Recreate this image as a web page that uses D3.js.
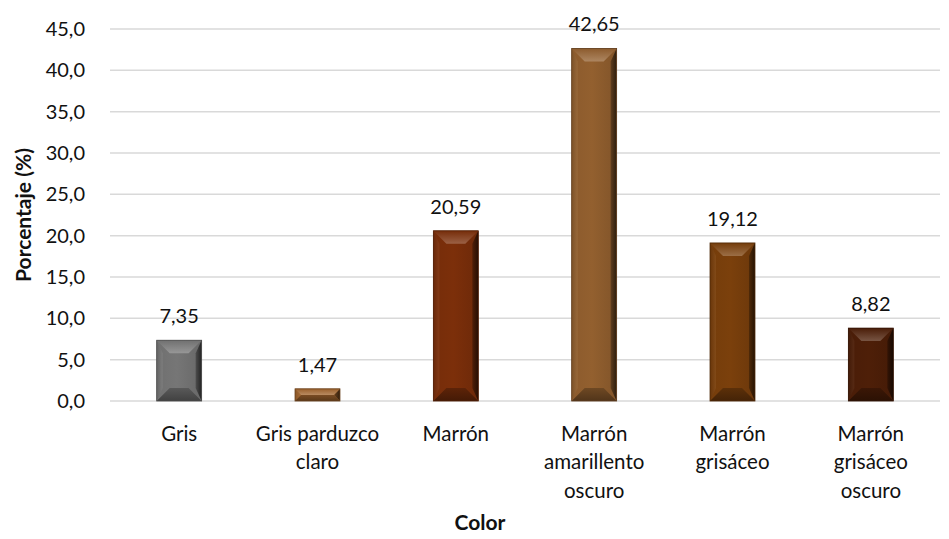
<!DOCTYPE html>
<html>
<head>
<meta charset="utf-8">
<script src="https://cdn.jsdelivr.net/npm/d3@7"></script>
<style>
  html, body { margin: 0; padding: 0; background: #fff; }
  svg { display: block; font-family: Lato, "Open Sans", sans-serif; }
</style>
</head>
<body>
<svg id="chart" width="949" height="539"></svg>
<script>
// Colour categories and their share (%)
const categories = ["Gris", "Gris parduzco claro", "Marrón", "Marrón amarillento oscuro", "Marrón grisáceo", "Marrón grisáceo oscuro"];
const categoryLines = [["Gris"], ["Gris parduzco", "claro"], ["Marrón"], ["Marrón", "amarillento", "oscuro"], ["Marrón", "grisáceo"], ["Marrón", "grisáceo", "oscuro"]];
const values = [7.35, 1.47, 20.59, 42.65, 19.12, 8.82];
const barColors = ["#767676", "#a2652e", "#7c2f0a", "#93602f", "#7b400c", "#4e1f08"];
const yTicks = [0, 5, 10, 15, 20, 25, 30, 35, 40, 45];

const svg = d3.select("#chart");
const margin = { left: 110, right: 9, top: 29, bottom: 138 };
const W = 949, H = 539;
const plotW = W - margin.left - margin.right;
const plotH = H - margin.top - margin.bottom;
const textColor = "#111";

const x = d3.scaleBand().domain(categories).range([margin.left, margin.left + plotW]).paddingInner(0.675).paddingOuter(0.3375);
const y = d3.scaleLinear().domain([0, 45]).range([margin.top + plotH, margin.top]);

const fmt = v => v.toFixed(1).replace(".", ",");
const fmt2 = v => v.toFixed(2).replace(".", ",");

// gridlines
svg.append("g").selectAll("line").data(yTicks).join("line")
  .attr("x1", margin.left).attr("x2", margin.left + plotW)
  .attr("y1", d => y(d)).attr("y2", d => y(d))
  .attr("stroke", "#d9d9d9").attr("stroke-width", 1.5);

// y axis labels
const yAxis = d3.axisLeft(y).tickValues(yTicks).tickFormat(fmt).tickSize(0).tickPadding(25);
const ya = svg.append("g").attr("transform", `translate(${margin.left},0)`).call(yAxis);
ya.select(".domain").remove();
ya.selectAll("text").attr("font-size", 20).attr("fill", textColor).attr("font-family", "Lato, sans-serif");

// bevelled bars
const defs = svg.append("defs");
function shade(c, k) { return k >= 0 ? d3.interpolateRgb(c, "#ffffff")(k) : d3.interpolateRgb(c, "#000000")(-k); }
function vGrad(id, stops, x1, y1, x2, y2) {
  const lg = defs.append("linearGradient").attr("id", id)
    .attr("x1", x1).attr("y1", y1).attr("x2", x2).attr("y2", y2);
  stops.forEach(([o, col]) => lg.append("stop").attr("offset", o).attr("stop-color", col));
}

const bars = svg.append("g");
categories.forEach((cat, i) => {
  const c = barColors[i];
  const x0 = x(cat), w = x.bandwidth();
  const y0 = y(values[i]), y1 = y(0);
  const h = y1 - y0;
  const b = Math.min(13, h / 2, w / 2);
  const s = Math.min(6, w / 4);
  const g = bars.append("g");
  vGrad("body" + i, [["0%", shade(c, -0.05)], ["45%", c], ["100%", shade(c, -0.12)]], 0, 0, 1, 0);
  vGrad("top" + i, [["0%", shade(c, -0.05)], ["100%", shade(c, 0.24)]], 0, 0, 0, 1);
  vGrad("bot" + i, [["0%", shade(c, -0.25)], ["100%", shade(c, -0.45)]], 0, 0, 0, 1);
  vGrad("rt" + i, [["0%", shade(c, -0.35)], ["100%", shade(c, -0.7)]], 0, 0, 1, 0);
  vGrad("lf" + i, [["0%", shade(c, -0.15)], ["100%", shade(c, 0.05)]], 0, 0, 1, 0);
  g.append("rect").attr("x", x0).attr("y", y0).attr("width", w).attr("height", h).attr("fill", `url(#body${i})`);
  const poly = (pts, fill) => g.append("polygon").attr("points", pts.map(p => p.join(",")).join(" ")).attr("fill", fill);
  poly([[x0, y0], [x0 + s, y0 + b], [x0 + s, y1 - b], [x0, y1]], `url(#lf${i})`);
  poly([[x0 + w, y0], [x0 + w - s, y0 + b], [x0 + w - s, y1 - b], [x0 + w, y1]], `url(#rt${i})`);
  poly([[x0, y0], [x0 + w, y0], [x0 + w - b, y0 + b], [x0 + b, y0 + b]], `url(#top${i})`);
  poly([[x0, y1], [x0 + w, y1], [x0 + w - b, y1 - b], [x0 + b, y1 - b]], `url(#bot${i})`);
  g.append("rect").attr("x", x0).attr("y", y0).attr("width", w).attr("height", h)
    .attr("fill", "none").attr("stroke", shade(c, -0.35)).attr("stroke-width", 0.8);
});

// value labels
svg.append("g").selectAll("text").data(values).join("text")
  .attr("x", (d, i) => x(categories[i]) + x.bandwidth() / 2)
  .attr("y", d => y(d) - 17)
  .attr("text-anchor", "middle").attr("font-size", 20).attr("fill", textColor)
  .text(fmt2);

// category labels
const cl = svg.append("g");
categories.forEach((cat, i) => {
  const cx = x(cat) + x.bandwidth() / 2;
  const t = cl.append("text").attr("text-anchor", "middle").attr("font-size", 20.5).attr("fill", textColor);
  categoryLines[i].forEach((ln, j) => {
    t.append("tspan").attr("x", cx).attr("y", 440.7 + j * 28.6).text(ln);
  });
});

// axis titles
svg.append("text").attr("x", 480).attr("y", 530)
  .attr("text-anchor", "middle").attr("font-size", 21).attr("font-weight", "bold").attr("fill", textColor)
  .text("Color");
svg.append("text").attr("transform", `translate(31,${margin.top + plotH / 2}) rotate(-90)`)
  .attr("text-anchor", "middle").attr("font-size", 21).attr("font-weight", "bold").attr("fill", textColor)
  .text("Porcentaje (%)");
</script>
</body>
</html>
